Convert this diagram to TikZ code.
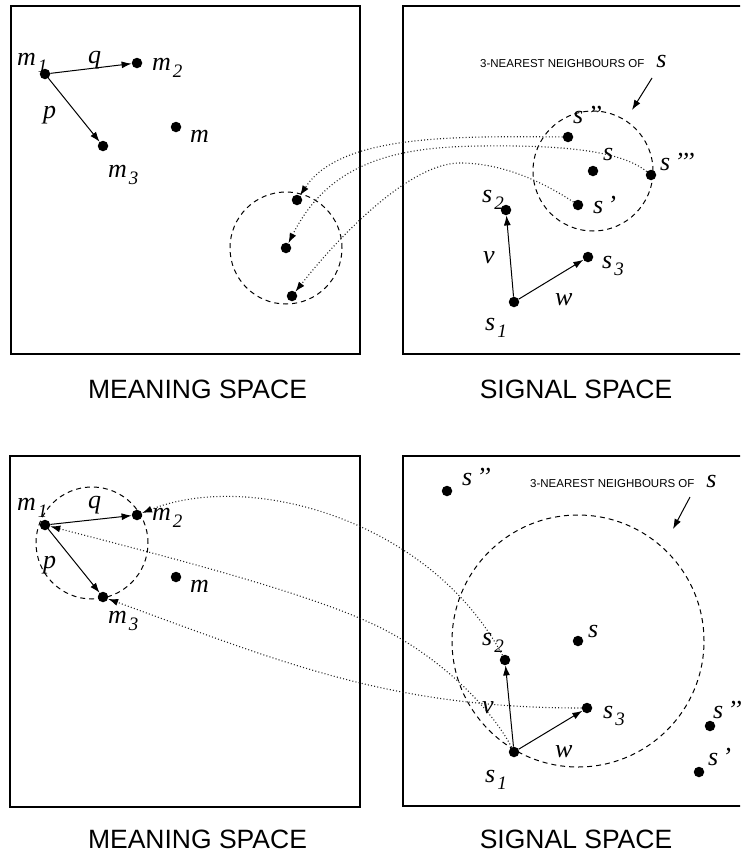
\documentclass[tikz,border=0pt]{standalone}
\usepackage{fontspec}
\setmainfont{Liberation Serif}
\newfontfamily\sansfam{Liberation Sans}
\usetikzlibrary{arrows.meta}
\newcommand\lsub[2]{\textit{#1}\kern2pt\raisebox{-7pt}{\fontsize{19}{19}\selectfont\textit{#2}}}
\newcommand\lpr[1]{\textit{s}\kern4pt\textit{#1}}
\newcommand\ttl{{\sansfam\fontsize{11.5}{12}\selectfont 3-NEAREST NEIGHBOURS OF}\kern12pt\textit{s}}
\begin{document}
\begin{tikzpicture}[x=1pt,y=-1pt,
  pt/.style={circle,fill=black,inner sep=0pt,minimum size=10.5pt},
  lbl/.style={anchor=base west,inner sep=0pt,font=\fontsize{26}{26}\selectfont},
  capt/.style={anchor=base,inner sep=0pt,font=\sansfam\fontsize{26.5}{27}\selectfont},
  box/.style={draw,line width=1.4pt},
  ring/.style={draw,circle,dash pattern=on 5pt off 4pt,line width=1pt,inner sep=0pt},
  vec/.style={line width=1pt,-{Latex[length=10pt,width=7pt]}},
  link/.style={line width=1.1pt,black!85,dash pattern=on 1pt off 2.2pt,-{Latex[length=10pt,width=7pt,color=black]}}
]
\useasboundingbox (0,0) rectangle (740,854);
\clip (0,0) rectangle (740,854);

% boxes
\node[box,minimum width=349pt,minimum height=348pt,inner sep=0pt] (boxTL) at (185.5,180) {};
\node[box,minimum width=347pt,minimum height=348pt,inner sep=0pt] (boxTR) at (576.5,180) {};
\node[box,minimum width=350pt,minimum height=351pt,inner sep=0pt] (boxBL) at (185,631.5) {};
\node[box,minimum width=347pt,minimum height=350pt,inner sep=0pt] (boxBR) at (576.5,631) {};

% captions
\node[capt] (capTL) at (197.5,398) {MEANING SPACE};
\node[capt] (capTR) at (576,398) {SIGNAL SPACE};
\node[capt] (capBL) at (197.5,848) {MEANING SPACE};
\node[capt] (capBR) at (576,848) {SIGNAL SPACE};

% ================= TOP LEFT =================
\node[pt] (m1t) at (45,74) {};
\node[pt] (m2t) at (137,63) {};
\node[pt] (m3t) at (103,146) {};
\node[pt] (mt) at (176,127) {};
\node[ring,minimum size=112pt] (ringTL) at (286,248) {};
\node[pt] (a1) at (297,200) {};
\node[pt] (a2) at (286,248) {};
\node[pt] (a3) at (292,296) {};
\draw[vec] (m1t) -- (m2t);
\draw[vec] (m1t) -- (m3t);
\node[lbl] (lm1t) at (17,65) {\lsub{m}{1}};
\node[lbl] (lqt) at (88,63) {\textit{q}};
\node[lbl] (lm2t) at (152,70) {\lsub{m}{2}};
\node[lbl] (lpt) at (43,118) {\textit{p}};
\node[lbl] (lm3t) at (108,177) {\lsub{m}{3}};
\node[lbl] (lmt) at (190,142) {\textit{m}};

% ================= TOP RIGHT =================
\node[ring,minimum size=120pt] (ringTR) at (593,171) {};
\node[pt] (s2t) at (506,210) {};
\node[pt] (s1t) at (514,302) {};
\node[pt] (s3t) at (588,257) {};
\node[pt] (sppt) at (568,137) {};
\node[pt] (st) at (593,171) {};
\node[pt] (spppt) at (651,175) {};
\node[pt] (spt) at (578,205) {};
\draw[vec] (s1t) -- (s2t);
\draw[vec] (s1t) -- (s3t);
\node[lbl] (ttlT) at (480,67) {\ttl};
\coordinate (ta1) at (652,78);
\coordinate (tb1) at (632,110);
\draw[vec] (ta1) -- (tb1);
\node[lbl] (ls2t) at (482,202) {\lsub{s}{2}};
\node[lbl] (lvt) at (483,263) {\textit{v}};
\node[lbl] (ls1t) at (485,330) {\lsub{s}{1}};
\node[lbl] (lwt) at (555,305) {\textit{w}};
\node[lbl] (ls3t) at (602,268) {\lsub{s}{3}};
\node[lbl] (lsppt) at (573,123) {\lpr{’’}};
\node[lbl] (lst) at (603,160) {\textit{s}};
\node[lbl] (lspppt) at (660,170) {\lpr{’’’}};
\node[lbl] (lspt) at (593,213) {\lpr{’}};

% links top
\draw[link] (sppt) .. controls (450,136) and (340,135) .. (a1);
\draw[link] (spppt) .. controls (620,150) and (560,145) .. (480,146) .. controls (400,147) and (330,160) .. (a2);
\draw[link] (spt) .. controls (540,180) and (500,163) .. (460,163) .. controls (410,163) and (340,235) .. (a3);

% ================= BOTTOM LEFT =================
\node[ring,minimum size=112pt] (ringBL) at (92,543) {};
\node[pt] (m1b) at (45,525) {};
\node[pt] (m2b) at (137,515) {};
\node[pt] (m3b) at (103,597) {};
\node[pt] (mb) at (176,577) {};
\draw[vec] (m1b) -- (m2b);
\draw[vec] (m1b) -- (m3b);
\node[lbl] (lm1b) at (17,510) {\lsub{m}{1}};
\node[lbl] (lqb) at (88,508) {\textit{q}};
\node[lbl] (lm2b) at (152,520) {\lsub{m}{2}};
\node[lbl] (lpb) at (43,568) {\textit{p}};
\node[lbl] (lm3b) at (108,623) {\lsub{m}{3}};
\node[lbl] (lmb) at (190,592) {\textit{m}};

% ================= BOTTOM RIGHT =================
\node[ring,minimum size=252pt] (ringBR) at (578,641) {};
\node[pt] (sppb) at (447,491) {};
\node[pt] (sb) at (578,641) {};
\node[pt] (s2b) at (505,660) {};
\node[pt] (s3b) at (587,708) {};
\node[pt] (s1b) at (514,752) {};
\node[pt] (spppb) at (710,726) {};
\node[pt] (spb) at (699,772) {};
\draw[vec] (s1b) -- (s2b);
\draw[vec] (s1b) -- (s3b);
\node[lbl] (ttlB) at (530,487) {\ttl};
\coordinate (ta2) at (690,497);
\coordinate (tb2) at (673,529);
\draw[vec] (ta2) -- (tb2);
\node[lbl] (lsppb) at (462,485) {\lpr{’’}};
\node[lbl] (lsb) at (588,637) {\textit{s}};
\node[lbl] (ls2b) at (482,645) {\lsub{s}{2}};
\node[lbl] (lvb) at (482,713) {\textit{v}};
\node[lbl] (ls3b) at (603,718) {\lsub{s}{3}};
\node[lbl] (ls1b) at (485,782) {\lsub{s}{1}};
\node[lbl] (lwb) at (555,757) {\textit{w}};
\node[lbl] (lspppb) at (713,718) {\lpr{’’’}};
\node[lbl] (lspb) at (708,765) {\lpr{’}};

% links bottom
\draw[link] (s2b) .. controls (430,520) and (250,470) .. (m2b);
\draw[link] (s1b) .. controls (495,715) and (450,664) .. (385,630) .. controls (320,596) and (180,560) .. (m1b);
\draw[link] (s3b) .. controls (392,708) and (286,664) .. (m3b);
\end{tikzpicture}
\end{document}
